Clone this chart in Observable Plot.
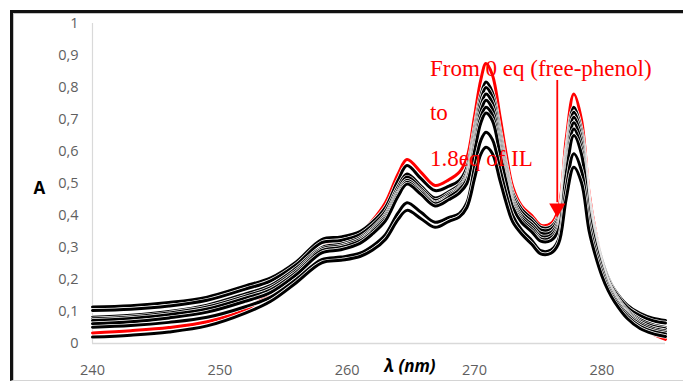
<!DOCTYPE html>
<html><head><meta charset="utf-8">
<script src="https://cdn.jsdelivr.net/npm/d3@7"></script>
<script src="https://cdn.jsdelivr.net/npm/@observablehq/plot@0.6"></script>
<style>
html,body{margin:0;padding:0;background:#fff;}
#wrap{position:relative;width:683px;height:385px;overflow:hidden;background:#fff;}
#frame{position:absolute;left:10px;top:10px;width:700px;height:367px;border-top:3px solid #111;border-left:3px solid #111;border-bottom:1px solid #d4d4d4;box-shadow:inset 1px 1px 0 #c4c4c4;}
#chart{position:absolute;left:0;top:0;}
</style></head><body>
<div id="wrap"><div id="frame"></div><div id="chart"></div></div>
<script>
const wavelengths = [240, 243, 246, 249, 252, 254, 256, 258, 259.5, 261, 262, 263, 264, 264.7, 265.8, 266.9, 268, 268.8, 269.4, 270, 270.5, 270.9, 271.4, 272, 272.5, 273, 273.7, 274.5, 275.2, 276, 276.6, 277.2, 277.8, 278.4, 279, 279.5, 280, 280.5, 281, 282, 283, 284, 285];

// 0 eq (free phenol) - red
const eq0 = [0.033, 0.040, 0.050, 0.068, 0.105, 0.160, 0.225, 0.300, 0.322, 0.345, 0.385, 0.440, 0.530, 0.575, 0.535, 0.494, 0.512, 0.535, 0.580, 0.710, 0.825, 0.875, 0.840, 0.710, 0.590, 0.490, 0.430, 0.400, 0.370, 0.375, 0.420, 0.640, 0.780, 0.700, 0.470, 0.350, 0.260, 0.195, 0.150, 0.092, 0.055, 0.030, 0.013];
const s1 = [0.114, 0.118, 0.128, 0.145, 0.180, 0.205, 0.255, 0.325, 0.333, 0.350, 0.380, 0.425, 0.510, 0.556, 0.515, 0.478, 0.492, 0.509, 0.550, 0.670, 0.775, 0.817, 0.785, 0.665, 0.555, 0.470, 0.420, 0.390, 0.363, 0.365, 0.400, 0.600, 0.738, 0.665, 0.450, 0.340, 0.262, 0.205, 0.168, 0.120, 0.094, 0.079, 0.072];
const s2 = [0.103, 0.107, 0.117, 0.135, 0.170, 0.196, 0.246, 0.315, 0.322, 0.340, 0.370, 0.412, 0.490, 0.530, 0.492, 0.455, 0.475, 0.495, 0.535, 0.655, 0.760, 0.800, 0.770, 0.650, 0.545, 0.460, 0.410, 0.382, 0.355, 0.357, 0.392, 0.588, 0.723, 0.652, 0.442, 0.335, 0.257, 0.200, 0.163, 0.113, 0.087, 0.071, 0.064];
const s3 = [0.082, 0.088, 0.100, 0.120, 0.155, 0.182, 0.235, 0.300, 0.310, 0.330, 0.360, 0.402, 0.480, 0.520, 0.484, 0.447, 0.468, 0.489, 0.525, 0.640, 0.742, 0.780, 0.752, 0.635, 0.533, 0.450, 0.400, 0.372, 0.345, 0.347, 0.382, 0.575, 0.707, 0.640, 0.434, 0.328, 0.250, 0.192, 0.155, 0.103, 0.075, 0.059, 0.050];
const s4 = [0.077, 0.083, 0.095, 0.114, 0.148, 0.175, 0.228, 0.295, 0.305, 0.325, 0.355, 0.396, 0.472, 0.510, 0.477, 0.440, 0.463, 0.485, 0.518, 0.628, 0.725, 0.760, 0.733, 0.620, 0.522, 0.442, 0.392, 0.364, 0.335, 0.338, 0.373, 0.561, 0.690, 0.625, 0.426, 0.322, 0.246, 0.188, 0.151, 0.099, 0.070, 0.054, 0.046];
const s5 = [0.072, 0.078, 0.090, 0.108, 0.142, 0.168, 0.222, 0.290, 0.300, 0.320, 0.350, 0.390, 0.466, 0.504, 0.472, 0.437, 0.458, 0.480, 0.512, 0.615, 0.708, 0.738, 0.714, 0.605, 0.512, 0.434, 0.385, 0.356, 0.327, 0.330, 0.364, 0.545, 0.670, 0.608, 0.416, 0.316, 0.242, 0.184, 0.147, 0.095, 0.065, 0.048, 0.040];
const s6 = [0.062, 0.068, 0.080, 0.098, 0.132, 0.160, 0.215, 0.283, 0.293, 0.313, 0.343, 0.383, 0.460, 0.498, 0.466, 0.430, 0.450, 0.470, 0.500, 0.600, 0.690, 0.720, 0.697, 0.592, 0.502, 0.426, 0.378, 0.349, 0.320, 0.322, 0.355, 0.530, 0.650, 0.592, 0.406, 0.310, 0.237, 0.180, 0.143, 0.091, 0.060, 0.043, 0.035];
const s7 = [0.051, 0.056, 0.066, 0.082, 0.115, 0.145, 0.200, 0.262, 0.270, 0.282, 0.305, 0.340, 0.408, 0.440, 0.410, 0.379, 0.394, 0.406, 0.440, 0.550, 0.635, 0.660, 0.638, 0.545, 0.465, 0.400, 0.355, 0.322, 0.290, 0.292, 0.325, 0.485, 0.593, 0.540, 0.376, 0.290, 0.224, 0.173, 0.137, 0.085, 0.054, 0.038, 0.030];
const s8 = [0.020, 0.026, 0.036, 0.055, 0.095, 0.132, 0.190, 0.252, 0.260, 0.272, 0.292, 0.325, 0.388, 0.416, 0.390, 0.363, 0.382, 0.395, 0.425, 0.515, 0.592, 0.613, 0.594, 0.510, 0.438, 0.380, 0.342, 0.310, 0.280, 0.282, 0.312, 0.452, 0.551, 0.503, 0.352, 0.274, 0.212, 0.165, 0.130, 0.078, 0.047, 0.031, 0.022];

const seriesNames = ["0 eq", "s1", "s2", "s3", "s4", "s5", "s6", "s7", "s8"];
const seriesValues = [eq0, s1, s2, s3, s4, s5, s6, s7, s8];
const seriesColors = ["#ff0000", "#000", "#000", "#000", "#000", "#000", "#000", "#000", "#000"];

const xTicks = [240, 250, 260, 270, 280];
const yTicks = [0, 0.1, 0.2, 0.3, 0.4, 0.5, 0.6, 0.7, 0.8, 0.9, 1];
const annotationLines = ["From 0 eq (free-phenol)", "to", "1.8eq of IL"];
const yLabel = "A";
const xLabel = "λ (nm)";

const rows = seriesNames.flatMap((name, k) => seriesValues[k].map((v, i) => ({series: name, wl: wavelengths[i], A: v})));

const lineMarks = seriesNames.flatMap((name, k) => {
  const data = rows.filter(d => d.series === name);
  return [
    Plot.line(data, {x: "wl", y: "A", stroke: "white", strokeWidth: 4.4, curve: "catmull-rom"}),
    Plot.line(data, {x: "wl", y: "A", stroke: seriesColors[k], strokeWidth: 3, curve: "catmull-rom"})
  ];
});

const annY = [0.8575, 0.722, 0.578];

const chart = Plot.plot({
  width: 683,
  height: 385,
  marginLeft: 92,
  marginRight: 18,
  marginTop: 23,
  marginBottom: 42,
  style: {fontFamily: "Open Sans", fontSize: "14.5px", color: "#5f5f5f", background: "transparent"},
  x: {domain: [240, 285], ticks: xTicks, tickSize: 0, tickPadding: 21, label: null},
  y: {domain: [0, 1], ticks: yTicks, tickSize: 0, tickPadding: 14, label: null,
      tickFormat: d => String(d).replace(".", ",")},
  marks: [
    Plot.ruleY([0], {stroke: "#d9d9d9", strokeWidth: 1.5}),
    Plot.ruleX([240], {stroke: "#d9d9d9", strokeWidth: 1.2}),
    ...lineMarks,
    Plot.ruleX([276.5], {y1: 0.822, y2: 0.44, stroke: "#ff0000", strokeWidth: 1.8}),
    Plot.dot([276.5], {x: d => d, y: () => 0.4228, symbol: "triangle", rotate: 180, r: 6, fill: "#ff0000", stroke: "none"}),
    Plot.text(annotationLines, {x: () => 266.5, y: (d, i) => annY[i], text: d => d, textAnchor: "start", lineAnchor: "middle",
      fill: "#ff0000", fontFamily: "Liberation Serif", fontSize: 23}),
    Plot.text([yLabel], {text: d => d, frameAnchor: "left", dx: -59, dy: 5, fill: "#000", fontWeight: "bold", fontSize: 17, fontFamily: "Open Sans"}),
    Plot.text([xLabel], {text: d => d, x: () => 264.93, frameAnchor: "bottom", dy: 28, fill: "#000", fontWeight: "bold", fontStyle: "italic", fontSize: 17, fontFamily: "Open Sans"})
  ]
});
document.getElementById("chart").appendChild(chart);
</script></body></html>
